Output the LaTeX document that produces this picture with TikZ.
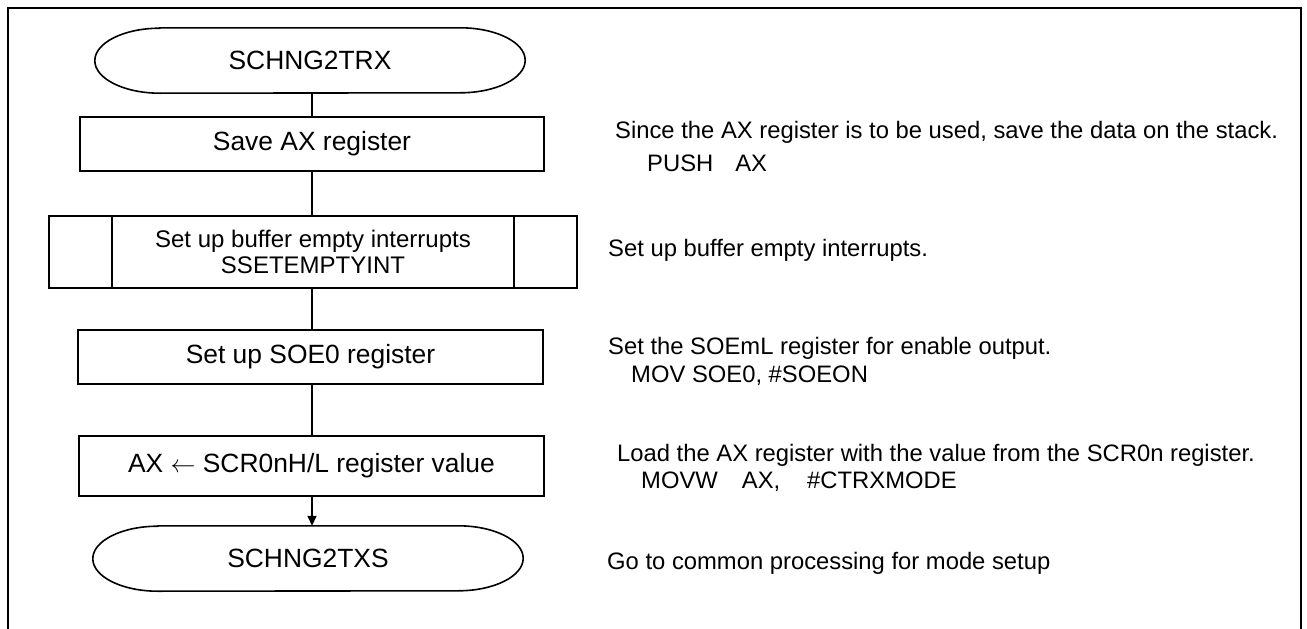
\documentclass[tikz,border=0pt]{standalone}
\usepackage{fontspec}
\setmainfont{Liberation Sans}
\usetikzlibrary{arrows.meta}
\begin{document}
\begin{tikzpicture}[x=1pt,y=-1pt,
  proc/.style={draw, line width=1.6pt, minimum height=#1, inner sep=0pt,
    font=\fontsize{26.4}{30}\selectfont},
  term/.style={minimum height=65pt, minimum width=430pt, inner sep=0pt,
    font=\fontsize{26.4}{30}\selectfont},
  note/.style={anchor=west, inner sep=0pt, font=\fontsize{23.8}{27}\selectfont},
  flow/.style={line width=1.6pt},
  capline/.style={line width=1.6pt}
]
\useasboundingbox (0,0) rectangle (1307,629);
\fill[white] (0,0) rectangle (1307,629);
% border (open at the bottom)
\draw[line width=2.4pt] (8,629) -- (8,8) -- (1301,8) -- (1301,629);

% terminals
\node[term] (t1) at (310,60.5) {SCHNG2TRX};
\node[term] (t2) at (308,558.5) {SCHNG2TXS};
\foreach \n in {t1,t2}{
  \draw[capline] ([xshift=65pt]\n.north west) -- ([xshift=-65pt]\n.north east)
    arc(-90:90:65 and 32.5) -- ([xshift=65pt]\n.south west)
    arc(90:270:65 and 32.5) -- cycle;
}

% process boxes
\node[proc=54pt, minimum width=464pt] (b1) at (312,144) {Save AX register};
\node[proc=72pt, minimum width=528pt, align=center,
      font=\fontsize{24}{26}\selectfont] (b2) at (313,252)
      {Set up buffer empty interrupts\\SSETEMPTYINT};
\draw[flow] ([xshift=64pt]b2.north west) -- ([xshift=64pt]b2.south west);
\draw[flow] ([xshift=-64pt]b2.north east) -- ([xshift=-64pt]b2.south east);
\node[proc=54pt, minimum width=465pt] (b3) at (310.5,357) {Set up SOE0 register};
\node[proc=60pt, minimum width=465pt] (b4) at (311.5,466) {AX $\leftarrow$ SCR0nH/L register value};

% connectors
\draw[flow] (t1.south -| b1.north) -- (b1.north);
\draw[flow] (b1.south) -- (b1.south |- b2.north);
\draw[flow] (b1.south |- b2.south) -- (b1.south |- b3.north);
\draw[flow] (b1.south |- b3.south) -- (b1.south |- b4.north);
\draw[flow, -{Triangle[length=10pt,width=9pt]}] (b1.south |- b4.south) -- (b1.south |- t2.north);

% notes
\node[note] (n1a) at (615,132) {Since the AX register is to be used, save the data on the stack.};
\node[note] (n1b) at (647,163) {PUSH\hspace{22pt}AX};
\node[note] (n2) at (608,250) {Set up buffer empty interrupts.};
\node[note] (n3a) at (608,348) {Set the SOEmL register for enable output.};
\node[note] (n3b) at (631,376) {MOV SOE0, \#SOEON};
\node[note] (n4a) at (617,455) {Load the AX register with the value from the SCR0n register.};
\node[note] (n4b) at (641,482) {MOVW\hspace{24pt}AX,\hspace{27pt}\#CTRXMODE};
\node[note] (n5) at (607,563) {Go to common processing for mode setup};
\end{tikzpicture}
\end{document}
